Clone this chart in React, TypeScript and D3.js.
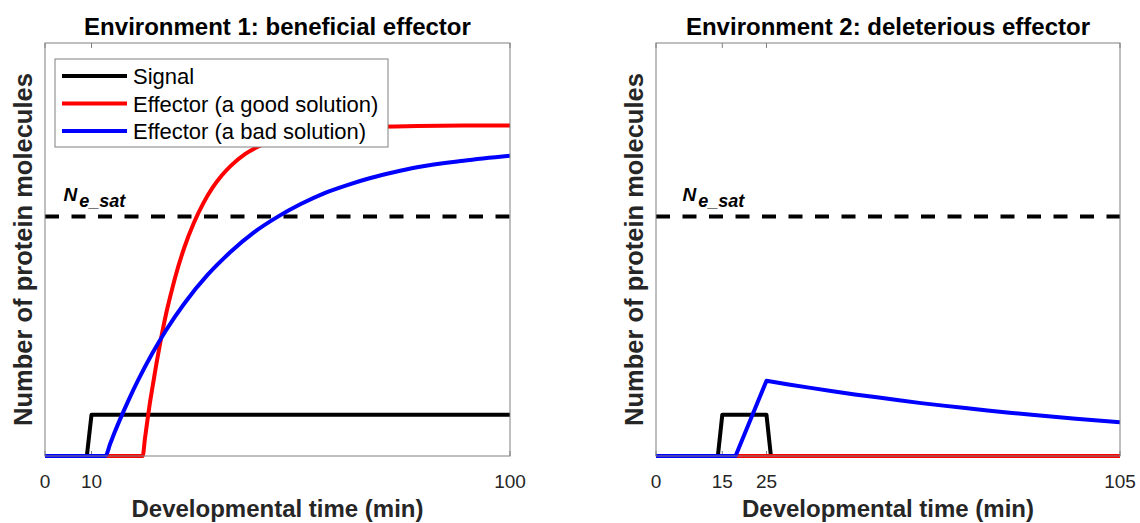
import React, { useEffect, useRef } from "react";
import * as d3 from "d3";

// values (arbitrary molecule units, 0..100)
const satLevel = 58;

const env1Ticks = [0, 10, 100];
const env1Signal = [[0, 0], [9, 0], [10, 10], [100, 10]];
const env1Good = [
  [0, 0], [21, 0], [21.5, 4.3], [22, 8.4], [22.5, 12.4], [23, 15.9], [24, 22.6],
  [25, 28.7], [26, 34.2], [27, 38.9], [28, 43.3], [30, 50.6], [32, 56.4], [34, 61.1],
  [36, 64.9], [38, 67.9], [40, 70.3], [43, 73.1], [46, 75.0], [50, 76.8], [55, 78.2],
  [60, 79.0], [70, 79.7], [80, 79.9], [90, 80], [100, 80],
];
const env1Bad = [
  [0, 0], [13, 0], [14, 2.9], [15, 5.8], [16, 8.5], [18, 13.6], [20, 18.3], [23, 24.7],
  [26, 30.4], [30, 37.0], [35, 43.9], [40, 49.5], [45, 54.2], [50, 57.9], [55, 61.0],
  [60, 63.6], [65, 65.6], [70, 67.3], [75, 68.7], [80, 69.9], [90, 71.5], [100, 72.7],
];

const env2Ticks = [0, 15, 25, 105];
const env2Signal = [[0, 0], [14, 0], [15, 10], [25, 10], [26, 0], [105, 0]];
const env2Good = [[0, 0], [105, 0]];
const env2Bad = [
  [0, 0], [18, 0], [25, 18.2], [30, 17.3], [35, 16.5], [40, 15.7], [45, 14.9],
  [50, 14.2], [55, 13.5], [60, 12.8], [65, 12.2], [70, 11.6], [75, 11.0], [80, 10.5],
  [85, 10.0], [90, 9.5], [95, 9.0], [100, 8.6], [105, 8.2],
];

const legendItems = [
  { label: "Signal", color: "#000000" },
  { label: "Effector (a good solution)", color: "#ff0000" },
  { label: "Effector (a bad solution)", color: "#0000ff" },
];

const FONT = "Arial, 'Liberation Sans', Helvetica, sans-serif";
const LW = 4;

const drawPanel = (g, cfg) => {
  const { left, right, top, bottom, xMax, ticks, title, signal, good, bad, satX, legend, smooth } = cfg;
  const x = d3.scaleLinear().domain([0, xMax]).range([left, right]);
  const y = d3.scaleLinear().domain([0, 100]).range([bottom, top]);

  // ticks (inward, top and bottom)
  ticks.forEach((t) => {
    g.append("line").attr("x1", x(t)).attr("x2", x(t)).attr("y1", bottom).attr("y2", bottom - 5)
      .attr("stroke", "#808080").attr("stroke-width", 1);
    g.append("line").attr("x1", x(t)).attr("x2", x(t)).attr("y1", top).attr("y2", top + 5)
      .attr("stroke", "#808080").attr("stroke-width", 1);
    g.append("text").attr("x", x(t)).attr("y", bottom + 32).attr("text-anchor", "middle")
      .attr("font-size", 19).attr("fill", "#262626").text(t);
  });

  const straight = d3.line().x((d) => x(d[0])).y((d) => y(d[1]));
  const curved = d3.line().curve(d3.curveMonotoneX).x((d) => x(d[0])).y((d) => y(d[1]));

  // N_e_sat threshold
  g.append("line").attr("x1", x(0)).attr("x2", x(xMax)).attr("y1", y(satLevel)).attr("y2", y(satLevel))
    .attr("stroke", "#000").attr("stroke-width", LW).attr("stroke-dasharray", "14,12.5");
  const lab = g.append("text").attr("x", x(satX)).attr("y", y(satLevel) - 15)
    .attr("font-weight", "bold").attr("font-style", "italic").attr("fill", "#000");
  lab.append("tspan").attr("font-size", 19).text("N");
  lab.append("tspan").attr("font-size", 18).attr("dx", 2).attr("dy", 6).text("e_sat");

  [[signal, "#000", straight], [good, "#ff0000", smooth ? curved : straight], [bad, "#0000ff", smooth ? curved : straight]]
    .forEach(([d, c, gen]) => {
      g.append("path").datum(d).attr("d", gen).attr("fill", "none").attr("stroke", c)
        .attr("stroke-width", LW).attr("stroke-linejoin", "round");
    });

  // axes box
  g.append("rect").attr("x", left).attr("y", top).attr("width", right - left).attr("height", bottom - top)
    .attr("fill", "none").attr("stroke", "#808080").attr("stroke-width", 1);

  g.append("text").attr("x", (left + right) / 2).attr("y", top - 8).attr("text-anchor", "middle")
    .attr("font-size", 24).attr("font-weight", "bold").attr("fill", "#000").text(title);
  g.append("text").attr("x", (left + right) / 2).attr("y", bottom + 61).attr("text-anchor", "middle")
    .attr("font-size", 24).attr("font-weight", "bold").attr("fill", "#262626").text("Developmental time (min)");
  g.append("text").attr("transform", `translate(${left - 13},${(top + bottom) / 2}) rotate(-90)`)
    .attr("text-anchor", "middle").attr("font-size", 25.5).attr("font-weight", "bold").attr("fill", "#262626")
    .text("Number of protein molecules");

  if (legend) {
    const lg = g.append("g");
    lg.append("rect").attr("x", left + 10).attr("y", top + 16).attr("width", 333).attr("height", 88)
      .attr("fill", "#fff").attr("stroke", "#808080").attr("stroke-width", 1);
    legendItems.forEach((it, i) => {
      const yy = top + 33 + i * 27.5;
      lg.append("line").attr("x1", left + 17).attr("x2", left + 82).attr("y1", yy).attr("y2", yy)
        .attr("stroke", it.color).attr("stroke-width", LW);
      lg.append("text").attr("x", left + 88).attr("y", yy + 8).attr("font-size", 22).attr("fill", "#000")
        .text(it.label);
    });
  }
};

const App = () => {
  const svgRef = useRef(null);

  useEffect(() => {
    const svg = d3.select(svgRef.current);
    svg.selectAll("*").remove();
    const root = svg.append("g").attr("font-family", FONT);

    drawPanel(root.append("g"), {
      left: 45, right: 510, top: 43, bottom: 456, xMax: 100, ticks: env1Ticks,
      title: "Environment 1: beneficial effector",
      signal: env1Signal, good: env1Good, bad: env1Bad, satX: 4, legend: true, smooth: true,
    });
    drawPanel(root.append("g"), {
      left: 656, right: 1120, top: 43, bottom: 456, xMax: 105, ticks: env2Ticks,
      title: "Environment 2: deleterious effector",
      signal: env2Signal, good: env2Good, bad: env2Bad, satX: 6, legend: false, smooth: false,
    });
  }, []);

  return (
    <svg ref={svgRef} width={1140} height={523}
      style={{ position: "absolute", left: 0, top: 0, background: "#fff" }} />
  );
};

export default App;
